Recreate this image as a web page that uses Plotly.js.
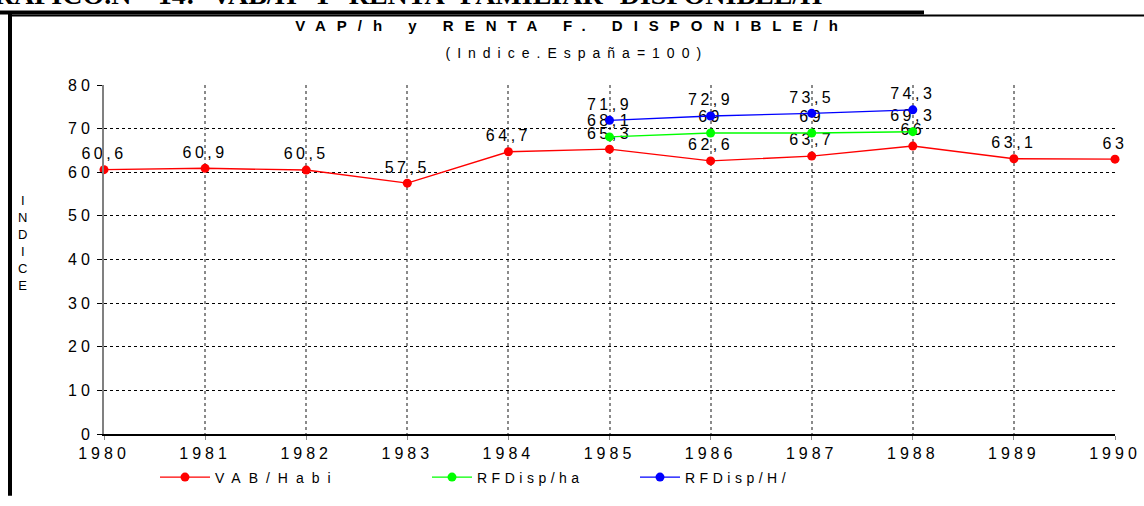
<!DOCTYPE html>
<html>
<head>
<meta charset="utf-8">
<script src="https://cdn.plot.ly/plotly-3.0.1.min.js"></script>
<style>
  html, body { margin: 0; padding: 0; background: #fff; }
  #chart { width: 1144px; height: 506px; }
  .xtick text, .ytick text { letter-spacing: 4px !important; }
  .textpoint text { letter-spacing: 3.5px !important; }
  .infolayer g[class*="legend"] text { letter-spacing: 8px !important; }
  .infolayer g.legend2 text, .infolayer g.legend3 text { letter-spacing: 4.5px !important; }
  .infolayer g[class*="scrollbox"], .infolayer .scrollbox { clip-path: none !important; }
  .gtitle { letter-spacing: 11px !important; }
  g.annotation[data-index="1"] text { letter-spacing: 7px !important; }
  g.annotation[data-index="0"] text { word-spacing: 10px !important; }
</style>
</head>
<body>
<div id="chart"></div>
<script>
// ---- data ----
const years = [1980, 1981, 1982, 1983, 1984, 1985, 1986, 1987, 1988, 1989, 1990];
const vabHabi = [60.6, 60.9, 60.5, 57.5, 64.7, 65.3, 62.6, 63.7, 66, 63.1, 63];
const rfdYears = [1985, 1986, 1987, 1988];
const rfdHa = [68.1, 69, 69, 69.3];
const rfdH = [71.9, 72.9, 73.5, 74.3];
const seriesNames = ["VAB/Habi", "RFDisp/ha", "RFDisp/H/"];
const yTicks = [0, 10, 20, 30, 40, 50, 60, 70, 80];

const headerText = "GRAFICO.Nº 14: VAB/H Y RENTA FAMILIAR DISPONIBLE/H";
const titleText = "VAP/h y RENTA F. DISPONIBLE/h";
const subtitleText = "(Indice.España=100)";
const yTitle = "INDICE";

const fmt = v => String(v).replace('.', ',');

// pixel helpers for the plot frame
const W = 1144, H = 506, L = 104, R = 29, T = 85, B = 60;
const pw = W - L - R, ph = H - T - B;
const px = p => (p - L) / pw;
const py = p => (H - B - p) / ph;

const FONT = 'Arial, Liberation Sans, sans-serif';

function series(name, x, y, color, legendId) {
  return {
    type: 'scatter', mode: 'lines+markers+text', name: name,
    x: x, y: y, text: y.map(fmt),
    textposition: 'top center',
    textfont: {family: FONT, size: 16, color: '#000'},
    line: {color: color, width: 1.4},
    marker: {color: color, size: 9},
    cliponaxis: false,
    showlegend: true,
    legend: legendId
  };
}

const data = [
  series(seriesNames[0], years, vabHabi, '#ff0000', 'legend'),
  series(seriesNames[1], rfdYears, rfdHa, '#00ff00', 'legend2'),
  series(seriesNames[2], rfdYears, rfdH, '#0000ff', 'legend3')
];

const legendBase = {
  orientation: 'h', yanchor: 'middle', xanchor: 'left', y: py(491),
  font: {family: FONT, size: 14, color: '#000'},
  bgcolor: 'rgba(0,0,0,0)', itemwidth: 40, visible: true
};

const annotations = [
  {xref: 'paper', yref: 'paper', x: px(0), y: py(-9), xanchor: 'left', yanchor: 'middle',
   text: '<b>' + headerText + '</b>', showarrow: false,
   font: {family: 'Liberation Serif, Times New Roman, serif', size: 28, color: '#000'}},
  {xref: 'paper', yref: 'paper', x: px(577), y: py(52), xanchor: 'center', yanchor: 'middle',
   text: subtitleText, showarrow: false,
   font: {family: FONT, size: 14, color: '#000'}},
  {xref: 'paper', yref: 'paper', x: px(22), y: py(248), xanchor: 'center', yanchor: 'middle',
   text: yTitle.split('').join('<br>'), showarrow: false,
   font: {family: FONT, size: 13, color: '#000'}}
];

const shapes = [
  {type: 'line', xref: 'paper', yref: 'paper', x0: px(10), x1: px(10), y0: py(11), y1: py(510),
   line: {color: '#000', width: 4}},
  {type: 'line', xref: 'paper', yref: 'paper', x0: px(8), x1: px(1146), y0: py(13), y1: py(13),
   line: {color: '#000', width: 2}},
  {type: 'line', xref: 'paper', yref: 'paper', x0: px(0), x1: px(924), y0: py(10), y1: py(10),
   line: {color: '#000', width: 4}}
];

const layout = {
  width: W, height: H,
  margin: {l: L, r: R, t: T, b: B, pad: 0},
  paper_bgcolor: '#fff', plot_bgcolor: '#fff',
  showlegend: true,
  title: {text: '<b>' + titleText + '</b>', x: 0.5, xanchor: 'center', xref: 'container',
          y: 1 - 26 / H, yanchor: 'middle',
          font: {family: FONT, size: 15, color: '#000'}},
  xaxis: {
    range: [1980, 1990], tickvals: years, ticktext: years.map(String),
    showgrid: true, gridcolor: '#8a8a8a', griddash: 'dot', gridwidth: 2,
    showline: true, linecolor: '#000', linewidth: 1.5,
    ticks: 'outside', ticklen: 4, tickcolor: '#888', tickwidth: 1,
    zeroline: false, fixedrange: true,
    tickfont: {family: FONT, size: 16, color: '#000'}
  },
  yaxis: {
    range: [0, 80], tickvals: yTicks, ticktext: yTicks.map(String),
    showgrid: true, gridcolor: '#000', griddash: 'dot', gridwidth: 1,
    showline: true, linecolor: '#808080', linewidth: 2,
    ticks: 'outside', ticklen: 5, tickcolor: '#000', tickwidth: 1,
    zeroline: false, fixedrange: true,
    tickfont: {family: FONT, size: 16, color: '#000'}
  },
  legend: Object.assign({}, legendBase, {x: px(155), itemwidth: 50}),
  legend2: Object.assign({}, legendBase, {x: px(427)}),
  legend3: Object.assign({}, legendBase, {x: px(635)}),
  annotations: annotations,
  shapes: shapes
};

Plotly.newPlot('chart', data, layout, {displayModeBar: false, staticPlot: true});
</script>
</body>
</html>
